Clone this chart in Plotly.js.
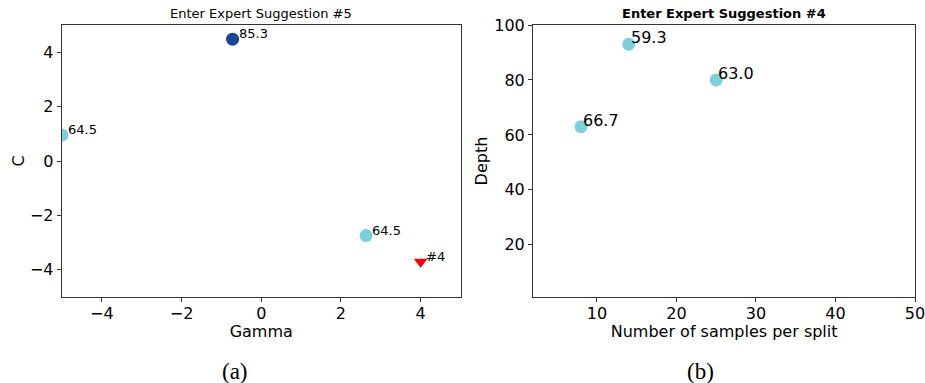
<!DOCTYPE html>
<html>
<head>
<meta charset="utf-8">
<script src="https://cdn.plot.ly/plotly-3.0.1.min.js"></script>
<style>html,body{margin:0;padding:0;background:#fff;}#chart{width:925px;height:383px;}</style>
</head>
<body>
<div id="chart"></div>
<script>
// Panel (a): SVM hyper-parameters
const gammaVals = [-0.72, -5.0, 2.63];
const cVals = [4.48, 0.95, -2.74];
const accA = ["85.3", "64.5", "64.5"];
const colorA = ["#18479b", "#7ecfdc", "#7ecfdc"];
const suggGamma = [4.0];
const suggC = [-3.7];
const suggLabel = ["#4"];

// Panel (b): tree hyper-parameters
const samplesVals = [8, 14, 25];
const depthVals = [63, 93, 80];
const accB = ["66.7", "59.3", "63.0"];

const titleA = "Enter Expert Suggestion #5";
const titleB = "<b>Enter Expert Suggestion #4</b>";
const captions = ["(a)", "(b)"];

const FONT = "DejaVu Sans";
const W = 925, H = 383;

const traces = [
  {x: gammaVals, y: cVals, type: "scatter", mode: "markers", xaxis: "x", yaxis: "y",
   marker: {size: 13, color: colorA, line: {width: 0}}, cliponaxis: true, hoverinfo: "skip"},
  {x: suggGamma, y: suggC, type: "scatter", mode: "markers", xaxis: "x", yaxis: "y",
   marker: {size: 12, symbol: "triangle-down", color: "#ff0000", line: {width: 0}}, cliponaxis: true, hoverinfo: "skip"},
  {x: samplesVals, y: depthVals, type: "scatter", mode: "markers", xaxis: "x2", yaxis: "y2",
   marker: {size: 13, color: "#7ecfdc", line: {width: 0}}, cliponaxis: true, hoverinfo: "skip"}
];

const annotations = [];
gammaVals.forEach((g, i) => annotations.push({
  x: g, y: cVals[i], xref: "x", yref: "y", text: accA[i], showarrow: false,
  xanchor: "left", yanchor: "bottom", xshift: 4, yshift: -4,
  font: {family: FONT, size: 13, color: "#000"}
}));
suggGamma.forEach((g, i) => annotations.push({
  x: g, y: suggC[i], xref: "x", yref: "y", text: suggLabel[i], showarrow: false,
  xanchor: "left", yanchor: "bottom", xshift: 3, yshift: -4,
  font: {family: FONT, size: 13, color: "#000"}
}));
samplesVals.forEach((s, i) => annotations.push({
  x: s, y: depthVals[i], xref: "x2", yref: "y2", text: accB[i], showarrow: false,
  xanchor: "left", yanchor: "bottom", xshift: 0, yshift: -5,
  font: {family: FONT, size: 16, color: "#000"}
}));
// subplot titles
annotations.push({x: 261 / W, y: 1 - 14 / H, xref: "paper", yref: "paper", text: titleA, showarrow: false,
  xanchor: "center", yanchor: "middle", font: {family: FONT, size: 13, color: "#000"}});
annotations.push({x: 724 / W, y: 1 - 14 / H, xref: "paper", yref: "paper", text: titleB, showarrow: false,
  xanchor: "center", yanchor: "middle", font: {family: FONT, size: 13, color: "#000"}});
// captions
annotations.push({x: 235 / W, y: 1 - 371 / H, xref: "paper", yref: "paper", text: captions[0], showarrow: false,
  xanchor: "center", yanchor: "middle", font: {family: "Liberation Serif", size: 23, color: "#000"}});
annotations.push({x: 700 / W, y: 1 - 371 / H, xref: "paper", yref: "paper", text: captions[1], showarrow: false,
  xanchor: "center", yanchor: "middle", font: {family: "Liberation Serif", size: 23, color: "#000"}});

const axisCommon = {
  showgrid: false, zeroline: false, showline: true, mirror: true,
  linecolor: "#333", linewidth: 1.3,
  ticks: "outside", ticklen: 4, tickwidth: 1, tickcolor: "#333",
  tickfont: {family: FONT, size: 16, color: "#000"},
  ticklabeloverflow: "allow",
  fixedrange: true
};
const yDomain = [(H - 297) / H, (H - 25) / H];

const layout = {
  width: W, height: H,
  margin: {l: 0, r: 0, t: 0, b: 0},
  paper_bgcolor: "#fff", plot_bgcolor: "#fff",
  showlegend: false,
  font: {family: FONT, color: "#000"},
  xaxis: Object.assign({}, axisCommon, {
    domain: [62 / W, 460.5 / W], range: [-5, 5], tickmode: "array", tickvals: [-4, -2, 0, 2, 4],
    ticklabelstandoff: -3,
    anchor: "y", title: {text: "Gamma", font: {family: FONT, size: 16, color: "#000"}, standoff: 4}
  }),
  yaxis: Object.assign({}, axisCommon, {
    domain: yDomain, range: [-5, 5], tickmode: "array", tickvals: [-4, -2, 0, 2, 4],
    anchor: "x", title: {text: "C", font: {family: FONT, size: 16, color: "#000"}, standoff: 1}
  }),
  xaxis2: Object.assign({}, axisCommon, {
    domain: [533.3 / W, 915 / W], range: [2, 50], tickmode: "array", tickvals: [10, 20, 30, 40, 50],
    ticklabelstandoff: -3,
    anchor: "y2", title: {text: "Number of samples per split", font: {family: FONT, size: 16, color: "#000"}, standoff: 4}
  }),
  yaxis2: Object.assign({}, axisCommon, {
    domain: yDomain, range: [1, 100], tickmode: "array", tickvals: [20, 40, 60, 80, 100],
    anchor: "x2", title: {text: "Depth", font: {family: FONT, size: 16, color: "#000"}, standoff: 2}
  }),
  annotations: annotations
};

Plotly.newPlot("chart", traces, layout, {displayModeBar: false, staticPlot: true});
</script>
</body>
</html>
